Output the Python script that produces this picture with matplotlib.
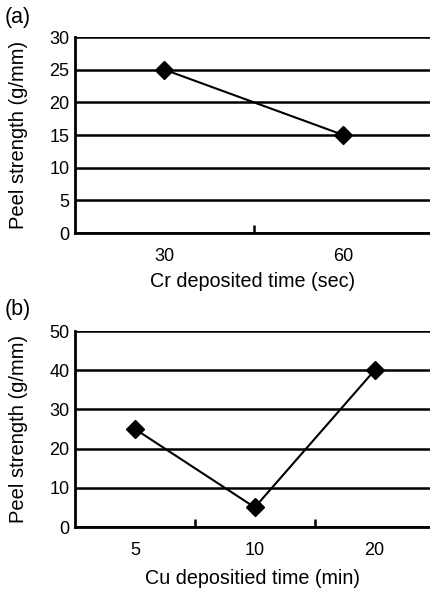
import matplotlib
matplotlib.use("Agg")
import matplotlib.pyplot as plt
from matplotlib.ticker import FixedLocator

plt.rcParams["font.family"] = ["Liberation Sans", "DejaVu Sans"]

# panel (a)
CR_TIME = ["30", "60"]
CR_PEEL = [25, 15]
# panel (b)
CU_TIME = ["5", "10", "20"]
CU_PEEL = [25, 5, 40]

W, H = 431, 593
fig = plt.figure(figsize=(W / 100, H / 100), dpi=100)


def panel(rect, cats, vals, ymax, ystep, xmax, xlabel, tag, tag_y, xpad):
    ax = fig.add_axes(rect)
    x = list(range(len(cats)))
    for yv in range(0, ymax + 1, ystep):
        ax.axhline(yv, color="black", lw=1.8, zorder=1)
    ax.plot(x, vals, color="black", lw=1.5, marker="D", ms=9, zorder=3,
            clip_on=False)
    ax.set_xlim(-0.5, xmax)
    ax.set_ylim(0, ymax)
    ax.set_yticks(range(0, ymax + 1, ystep))
    ax.set_xticks(x)
    ax.set_xticklabels(cats)
    ax.xaxis.set_minor_locator(FixedLocator([i + 0.5 for i in x[:-1]]))
    ax.tick_params(axis="both", which="major", length=0, labelsize=13,
                   pad=4)
    ax.tick_params(axis="x", which="major", pad=11)
    ax.tick_params(axis="x", which="minor", direction="in", length=6,
                   width=1.8)
    for s in ("top", "right"):
        ax.spines[s].set_visible(False)
    for s in ("left", "bottom"):
        ax.spines[s].set_linewidth(2)
    ax.set_ylabel("Peel strength (g/mm)", fontsize=14.5, labelpad=15)
    ax.set_xlabel(xlabel, fontsize=14.2, labelpad=xpad)
    fig.text(5 / W, 1 - tag_y / H, tag, fontsize=15.5, va="center",
             ha="left")
    return ax


panel([75 / W, 1 - 233 / H, 1 - 75 / W, 196 / H], CR_TIME, CR_PEEL, 30, 5,
      1.49, "Cr deposited time (sec)", "(a)", 18, 5)
panel([75 / W, 1 - 527 / H, 1 - 75 / W, 196 / H], CU_TIME, CU_PEEL, 50, 10,
      2.47, "Cu depositied time (min)", "(b)", 309, 7)

fig.savefig("out.png", dpi=100)
